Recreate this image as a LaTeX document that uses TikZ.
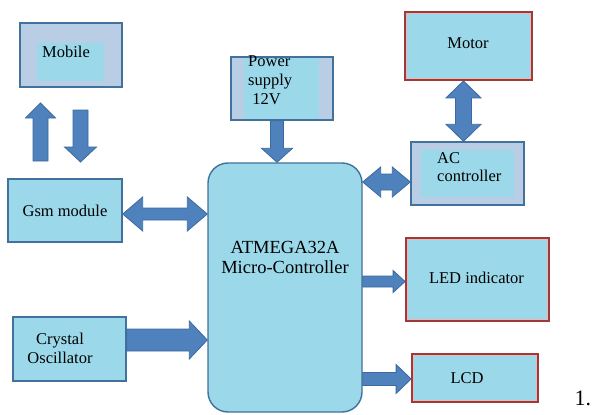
\documentclass[tikz,border=0pt]{standalone}
\usepackage{fontspec}
\setmainfont{Liberation Serif}
\usetikzlibrary{calc}
\definecolor{boxfill}{HTML}{9BD9EA}
\definecolor{outerfill}{HTML}{B9CDE5}
\definecolor{blueline}{HTML}{41719C}
\definecolor{arrowfill}{HTML}{4F81BD}
\definecolor{arrowline}{HTML}{3A6A9F}
\definecolor{redline}{HTML}{A03A38}
\definecolor{pinkline}{HTML}{E6B9B8}
\tikzset{
  lblfont/.style={font=\fontsize{16.5}{19}\selectfont},
  box/.style={draw=blueline, line width=1.4pt, fill=boxfill, inner sep=0pt, lblfont},
  outerbox/.style={draw=blueline, line width=1.4pt, fill=outerfill, inner sep=0pt},
  innerbox/.style={fill=boxfill, inner sep=0pt, draw=none},
  redbox/.style={draw=redline, line width=1.8pt, fill=boxfill, inner sep=0pt,
    path picture={\draw[pinkline, line width=3.6pt] (path picture bounding box.south west) rectangle (path picture bounding box.north east);}},
  lbl/.style={lblfont, inner sep=0pt, text=black},
  fat/.style={fill=arrowfill, draw=arrowline, line width=0.8pt, line join=miter},
}
% single block arrow: from, to, shaft half width, head half width, head length
\newcommand\onearrow[5]{%
  \coordinate (tmpH) at ($(#2)!#5!(#1)$);
  \draw[fat] ($(#1)!#3!90:(#2)$) -- ($(tmpH)!#3!-90:(#1)$) -- ($(tmpH)!#4!-90:(#1)$) -- (#2)
    -- ($(tmpH)!#4!90:(#1)$) -- ($(tmpH)!#3!90:(#1)$) -- ($(#1)!#3!-90:(#2)$) -- cycle;}
% double block arrow
\newcommand\twoarrow[5]{%
  \coordinate (tmpA) at ($(#1)!#5!(#2)$);
  \coordinate (tmpB) at ($(#2)!#5!(#1)$);
  \draw[fat] (#1) -- ($(tmpA)!#4!90:(#2)$) -- ($(tmpA)!#3!90:(#2)$) -- ($(tmpB)!#3!-90:(#1)$)
    -- ($(tmpB)!#4!-90:(#1)$) -- (#2) -- ($(tmpB)!#4!90:(#1)$) -- ($(tmpB)!#3!90:(#1)$)
    -- ($(tmpA)!#3!-90:(#2)$) -- ($(tmpA)!#4!-90:(#2)$) -- cycle;}
\begin{document}
\begin{tikzpicture}[x=1pt, y=-1pt]
\fill[white] (0,0) rectangle (592,415);
\useasboundingbox (0,0) rectangle (592,415);

% Mobile
\node[outerbox, minimum width=102pt, minimum height=64pt] (mobile) at (71,55) {};
\node[innerbox, minimum width=67pt, minimum height=38pt] (mobilein) at (70.5,62) {};
\node[lbl, anchor=base west] (mobiletxt) at (42,57) {Mobile};

% Power supply
\node[outerbox, minimum width=102pt, minimum height=63pt] (power) at (282,88.5) {};
\node[innerbox, minimum width=75pt, minimum height=61pt] (powerin) at (281,88.5) {};
\node[lbl, anchor=west, align=left] (powertxt) at (248,80.5) {Power\\supply\\\ 12V};

% Motor
\node[redbox, minimum width=127pt, minimum height=68pt] (motor) at (468.5,46) {};
\node[lbl] (motortxt) at (468,43.5) {Motor};

% AC controller
\node[outerbox, minimum width=113pt, minimum height=63pt] (ac) at (467.5,173.5) {};
\node[innerbox, minimum width=93pt, minimum height=47pt] (acin) at (467.5,173.5) {};
\node[lbl, anchor=west, align=left, font=\fontsize{16.5}{18}\selectfont] (actxt) at (437,167.5) {AC\\controller};

% Gsm module
\node[box, minimum width=114pt, minimum height=63pt] (gsm) at (65,210.5) {Gsm module};

% Crystal oscillator
\node[box, minimum width=113pt, minimum height=64pt] (crystal) at (69.5,349) {};
\node[lbl, align=center] (crystaltxt) at (60,348) {Crystal\\Oscillator};

% Microcontroller
\node[box, rounded corners=20pt, minimum width=154pt, minimum height=249pt] (mcu) at (285,287.5) {};
\node[inner sep=0pt, align=center, font=\fontsize{18.5}{20}\selectfont] (mcutxt) at (285,257) {ATMEGA32A\\Micro-Controller};

% LED indicator
\node[redbox, minimum width=143pt, minimum height=83pt] (led) at (477.5,279.5) {};
\node[lbl] (ledtxt) at (476.5,277.5) {LED indicator};

% LCD
\node[redbox, minimum width=126pt, minimum height=48pt] (lcd) at (475,378) {};
\node[lbl] (lcdtxt) at (467,378.5) {LCD};

% Arrows between Mobile and Gsm module
\coordinate (mu1) at (40.5,161); \coordinate (mu2) at (40.5,103);
\onearrow{mu1}{mu2}{7.5pt}{15pt}{15pt}
\coordinate (md1) at (80.5,110); \coordinate (md2) at (80.5,162);
\onearrow{md1}{md2}{7.5pt}{16pt}{15pt}

% Power -> MCU
\coordinate (p1) at ([xshift=-5pt]power.south);
\coordinate (p2) at (p1 |- mcu.north);
\onearrow{p1}{p2}{6.5pt}{15.5pt}{14pt}

% Gsm <-> MCU
\coordinate (g1) at ([yshift=-3.5pt]gsm.east);
\coordinate (g2) at (g1 -| mcu.west);
\twoarrow{g1}{g2}{6pt}{17pt}{20pt}

% Crystal -> MCU
\coordinate (c1) at ([yshift=9pt]crystal.east);
\coordinate (c2) at (c1 -| mcu.west);
\onearrow{c1}{c2}{11pt}{19pt}{18pt}

% MCU <-> AC controller
\coordinate (a1) at ([yshift=-8.5pt]ac.west);
\coordinate (a2) at (a1 -| mcu.east);
\twoarrow{a2}{a1}{8pt}{15pt}{18pt}

% Motor <-> AC controller
\coordinate (m1) at ([xshift=-5pt]motor.south);
\coordinate (m2) at (m1 |- ac.north);
\twoarrow{m1}{m2}{8pt}{17.5pt}{17pt}

% MCU -> LED
\coordinate (l2) at ([yshift=-2pt]led.west);
\coordinate (l1) at (l2 -| mcu.east);
\onearrow{l1}{l2}{5.5pt}{11pt}{12pt}

% MCU -> LCD
\coordinate (d2) at ([yshift=-1pt]lcd.west);
\coordinate (d1) at (d2 -| mcu.east);
\onearrow{d1}{d2}{6.5pt}{14.5pt}{15pt}

\node[font=\fontsize{22}{24}\selectfont, anchor=base west, inner sep=0pt] (num) at (574.5,405) {1.};
\end{tikzpicture}
\end{document}
